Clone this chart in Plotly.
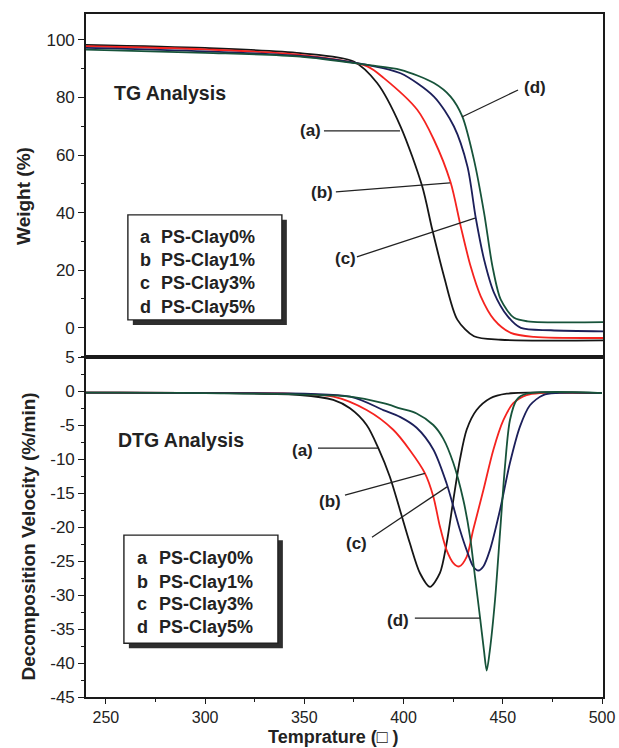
import plotly.graph_objects as go

# ---------------- TG data (Weight %) ----------------
tg_a_T = [240, 300, 348.0, 374.9, 386.7, 398.5, 409.4, 414.5, 420.4, 427.1, 435.5, 449.0, 501]
tg_a_W = [98.3, 97.2, 95.4, 92.5, 85.0, 69.9, 49.1, 34.0, 17.8, 2.8, -3.0, -4.2, -4.4]

tg_b_T = [240, 300, 348.0, 381.7, 390.1, 406.9, 415.3, 423.7, 428.8, 433.8, 438.9, 445.6, 454.0, 465.8, 501]
tg_b_W = [97.8, 96.7, 94.8, 90.8, 86.7, 75.7, 65.3, 50.5, 35.2, 21.3, 10.9, 2.8, -1.8, -3.2, -3.6]

tg_c_T = [240, 300, 348.0, 381.7, 398.5, 415.3, 425.4, 432.2, 436.4, 440.6, 445.6, 452.4, 459.1, 474.2, 501]
tg_c_W = [97.2, 96.0, 94.4, 91.3, 88.4, 80.3, 69.9, 56.0, 38.1, 23.6, 12.1, 4.0, -0.1, -0.9, -1.3]

tg_d_T = [240, 300, 348.0, 381.7, 398.5, 415.3, 423.7, 429.6, 435.5, 440.6, 444.8, 449.0, 455.7, 462.5, 501]
tg_d_W = [96.6, 95.5, 94.2, 91.3, 89.6, 85.0, 80.3, 73.4, 58.3, 39.8, 21.3, 9.7, 3.4, 2.2, 1.9]

# ---------------- DTG data (%/min) ----------------
dtg_a_T = [240, 300, 347.8, 364.6, 373.0, 381.4, 387.3, 393.1, 398.2, 403.2, 408.3, 413.3, 418.3, 421.7,
           425.1, 428.4, 431.8, 436.8, 443.5, 452.0, 500]
dtg_a_V = [-0.25, -0.3, -0.59, -1.32, -2.55, -5.0, -8.4, -12.6, -17.5, -22.4, -26.8, -28.8, -26.8, -22.4,
           -16.0, -10.1, -5.7, -2.8, -1.1, -0.4, -0.3]

dtg_b_T = [240, 300, 364.6, 381.4, 394.8, 403.2, 410.8, 415.0, 418.3, 421.7, 425.1, 428.1, 431.8, 435.1,
           440.2, 445.2, 450.3, 455.3, 462.0, 468.7, 500]
dtg_b_V = [-0.25, -0.3, -0.83, -2.8, -5.7, -8.7, -12.1, -15.5, -19.9, -23.4, -25.3, -25.8, -24.4, -20.4,
           -14.6, -8.7, -4.3, -1.8, -0.6, -0.3, -0.3]

dtg_c_T = [240, 300, 373.0, 389.8, 398.2, 406.6, 415.0, 421.7, 425.1, 428.4, 431.8, 435.1, 437.7, 440.2,
           443.5, 448.6, 453.6, 458.7, 463.7, 470.4, 477.1, 500]
dtg_c_V = [-0.25, -0.3, -0.83, -2.8, -3.8, -5.4, -8.6, -13.6, -17.0, -20.4, -23.4, -25.8, -26.4, -25.8,
           -23.4, -17.5, -10.6, -5.2, -2.1, -0.6, -0.3, -0.3]

dtg_d_T = [240, 300, 373.0, 389.8, 398.2, 406.6, 415.0, 420.0, 425.1, 430.1, 433.5, 436.0, 438.5, 440.5,
           441.9, 443.5, 446.1, 448.6, 451.1, 453.6, 457.0, 462.0, 500]
dtg_d_V = [-0.25, -0.3, -0.83, -1.8, -2.55, -3.3, -5.0, -7.0, -10.6, -16.0, -21.4, -27.3, -33.2, -38.1,
           -41.1, -38.1, -30.7, -20.9, -11.1, -4.3, -1.3, -0.4, -0.3]

series_letters = ["a", "b", "c", "d"]
series_names = ["PS-Clay0%", "PS-Clay1%", "PS-Clay3%", "PS-Clay5%"]
colors = ["#161616", "#f5231f", "#1c1f5a", "#17533a"]

x_tickvals = [250, 300, 350, 400, 450, 500]
x_ticktext = ["250", "300", "350", "400", "450", "500"]
tg_tickvals = [0, 20, 40, 60, 80, 100]
tg_ticktext = ["0", "20", "40", "60", "80", "100"]
dtg_tickvals = [5, 0, -5, -10, -15, -20, -25, -30, -35, -40, -45]
dtg_ticktext = ["5", "0", "-5", "-10", "-15", "-20", "-25", "-30", "-35", "-40", "-45"]

FONT = "Liberation Sans, Arial, sans-serif"

fig = go.Figure()

tg = [(tg_a_T, tg_a_W), (tg_b_T, tg_b_W), (tg_c_T, tg_c_W), (tg_d_T, tg_d_W)]
dtg = [(dtg_a_T, dtg_a_V), (dtg_b_T, dtg_b_V), (dtg_c_T, dtg_c_V), (dtg_d_T, dtg_d_V)]

for i, (t, w) in enumerate(tg):
    fig.add_trace(go.Scatter(x=t, y=w, mode="lines", xaxis="x", yaxis="y",
                             line=dict(color=colors[i], width=1.8, shape="spline", smoothing=0.8),
                             showlegend=False, name=series_names[i]))
for i, (t, v) in enumerate(dtg):
    fig.add_trace(go.Scatter(x=t, y=v, mode="lines", xaxis="x2", yaxis="y2",
                             line=dict(color=colors[i], width=1.8, shape="spline", smoothing=0.8),
                             showlegend=False, name=series_names[i]))

split = 0.4978
axis_common = dict(showline=True, linecolor="#1a1a1a", linewidth=1.6, mirror=True,
                   showgrid=False, zeroline=False, automargin=False)
tickfont = dict(family=FONT, size=17, color="#222")

fig.update_layout(
    width=619, height=748,
    margin=dict(l=86, r=16, t=14, b=51),
    paper_bgcolor="white", plot_bgcolor="white",
    xaxis=dict(domain=[0, 1], anchor="y", range=[240, 500.5], showticklabels=False, ticks="",
               **axis_common),
    yaxis=dict(domain=[split, 1], anchor="x", range=[-10.2, 109], tickvals=tg_tickvals,
               ticktext=tg_ticktext, ticks="outside", ticklen=6, tickwidth=1.4, tickcolor="#1a1a1a",
               minor=dict(dtick=10, tick0=0, ticks="outside", ticklen=3, tickwidth=1.2, tickcolor="#1a1a1a"),
               tickfont=tickfont, **axis_common),
    xaxis2=dict(domain=[0, 1], anchor="y2", range=[240, 500.5], tickvals=x_tickvals, ticktext=x_ticktext,
                ticks="outside", ticklen=5, tickwidth=1.4, tickcolor="#1a1a1a",
                minor=dict(dtick=25, tick0=250, ticks="outside", ticklen=3, tickwidth=1.4, tickcolor="#1a1a1a"),
                tickfont=dict(family=FONT, size=16, color="#222"), **axis_common),
    yaxis2=dict(domain=[0, split], anchor="x2", range=[-45, 5], tickvals=dtg_tickvals, ticktext=dtg_ticktext,
                ticks="outside", ticklen=6, tickwidth=1.4, tickcolor="#1a1a1a",
                minor=dict(dtick=2.5, tick0=0, ticks="outside", ticklen=3, tickwidth=1.2, tickcolor="#1a1a1a"),
                tickfont=tickfont, **axis_common),
)

ann = []
bold = dict(family=FONT, size=19, color="#222")

# axis titles
ann.append(dict(text="<b>Weight (%)</b>", xref="paper", yref="paper", x=-0.122, y=0.7335,
                textangle=-90, showarrow=False, font=bold, xanchor="center", yanchor="middle"))
ann.append(dict(text="<b>Decomposition Velocity (%/min)</b>", xref="paper", yref="paper", x=-0.112, y=0.235,
                textangle=-90, showarrow=False, font=bold, xanchor="center", yanchor="middle"))
ann.append(dict(text="<b>Temprature (\u25a1 )</b>", xref="paper", yref="paper", x=0.478, y=-0.0747,
                showarrow=False, font=dict(family=FONT, size=18, color="#222"), xanchor="center",
                yanchor="bottom", borderpad=0))

# panel titles
ann.append(dict(text="<b>TG Analysis</b>", xref="x", yref="y", x=253.0, y=81.6, showarrow=False,
                font=dict(family=FONT, size=19.5, color="#222"), xanchor="left", yanchor="middle"))
ann.append(dict(text="<b>DTG Analysis</b>", xref="x2", yref="y2", x=255.0, y=-7.2, showarrow=False,
                font=dict(family=FONT, size=19.5, color="#222"), xanchor="left", yanchor="middle"))

shapes = []
# legend boxes
def legend_box(xr, yr, x0, x1, y0, y1, dx, dy, rows_y, xl, xn):
    shapes.append(dict(type="rect", xref=xr, yref=yr, x0=x0 + dx, x1=x1 + dx, y0=y0 - dy, y1=y1 - dy,
                       fillcolor="#2e2e2e", line=dict(width=0)))
    shapes.append(dict(type="rect", xref=xr, yref=yr, x0=x0, x1=x1, y0=y0, y1=y1,
                       fillcolor="white", line=dict(color="#222", width=1.4)))
    for k in range(4):
        ann.append(dict(text="<b>%s</b>" % series_letters[k], xref=xr, yref=yr, x=xl, y=rows_y[k],
                        showarrow=False, font=dict(family=FONT, size=18, color="#222"),
                        xanchor="left", yanchor="middle"))
        ann.append(dict(text="<b>%s</b>" % series_names[k], xref=xr, yref=yr, x=xn, y=rows_y[k],
                        showarrow=False, font=dict(family=FONT, size=18, color="#222"),
                        xanchor="left", yanchor="middle"))

legend_box("x", "y", 261.1, 338.7, 2.7, 39.2, 2.5, 1.74, [31.5, 23.5, 15.5, 7.2], 266.0, 277.0)
legend_box("x2", "y2", 259.1, 336.7, -37.1, -21.2, 2.5, 0.74, [-24.6, -28.1, -31.3, -34.7], 264.5, 276.0)

# pointer labels
def pointer(xr, yr, label, tx, ty, lx0, ly0, lx1, ly1):
    ann.append(dict(text="<b>(%s)</b>" % label, xref=xr, yref=yr, x=tx, y=ty, showarrow=False,
                    font=dict(family=FONT, size=17, color="#222"), xanchor="center", yanchor="middle"))
    shapes.append(dict(type="line", xref=xr, yref=yr, x0=lx0, y0=ly0, x1=lx1, y1=ly1,
                       line=dict(color="#222", width=1.3)))

pointer("x", "y", "a", 353.3, 68.4, 359.9, 68.4, 398.2, 68.4)
pointer("x", "y", "b", 358.9, 46.8, 365.9, 47.2, 423.4, 50.3)
pointer("x", "y", "c", 371.0, 24.2, 376.5, 24.6, 436.0, 38.1)
pointer("x", "y", "d", 466.2, 83.3, 457.7, 82.6, 429.4, 73.2)

pointer("x2", "y2", "a", 349.3, -8.7, 356.9, -8.4, 387.1, -8.4)
pointer("x2", "y2", "b", 362.9, -16.3, 370.5, -15.3, 410.8, -12.1)
pointer("x2", "y2", "c", 376.5, -22.4, 384.1, -21.5, 421.9, -14.1)
pointer("x2", "y2", "d", 397.2, -33.7, 405.7, -33.4, 438.5, -33.4)

fig.update_layout(annotations=ann, shapes=shapes)

fig.write_html("out.html")
